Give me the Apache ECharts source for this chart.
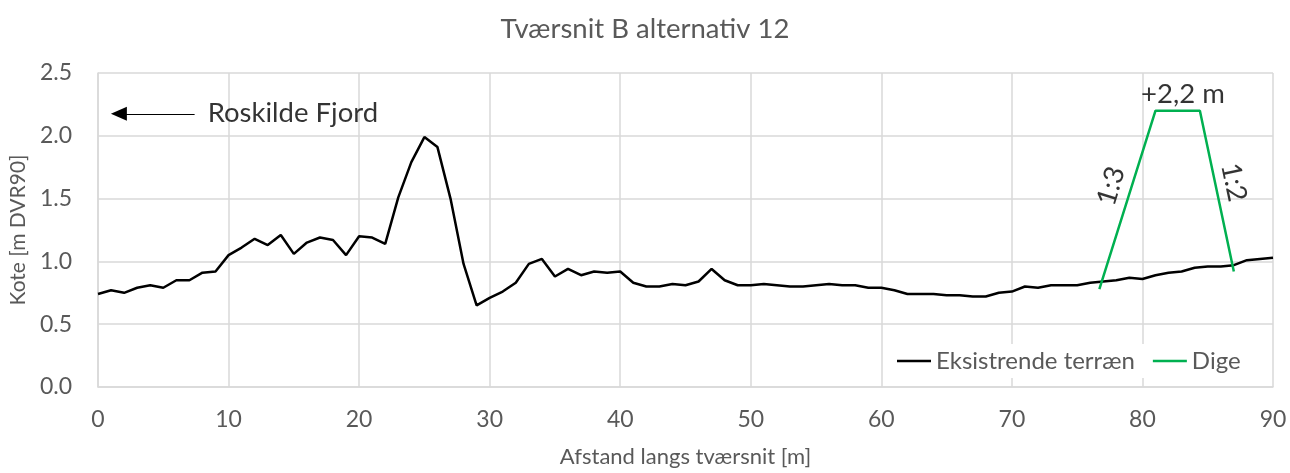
<!DOCTYPE html>
<html>
<head>
<meta charset="utf-8">
<script src="https://cdn.jsdelivr.net/npm/echarts@6/dist/echarts.min.js"></script>
<style>
html,body{margin:0;padding:0;background:#fff;}
#c{width:1290px;height:473px;}
</style>
</head>
<body>
<div id="c"></div>
<script>
// Terrain profile: distance (m) 0..90 step 1
const terrainX = [0,1,2,3,4,5,6,7,8,9,10,11,12,13,14,15,16,17,18,19,20,21,22,23,24,25,26,27,28,29,30,31,32,33,34,35,36,37,38,39,40,41,42,43,44,45,46,47,48,49,50,51,52,53,54,55,56,57,58,59,60,61,62,63,64,65,66,67,68,69,70,71,72,73,74,75,76,77,78,79,80,81,82,83,84,85,86,87,88,89,90];
const terrainY = [0.74,0.77,0.75,0.79,0.81,0.79,0.85,0.85,0.91,0.92,1.05,1.11,1.18,1.13,1.21,1.06,1.15,1.19,1.17,1.05,1.20,1.19,1.14,1.51,1.79,1.99,1.91,1.50,0.98,0.65,0.71,0.76,0.83,0.98,1.02,0.88,0.94,0.89,0.92,0.91,0.92,0.83,0.80,0.80,0.82,0.81,0.84,0.94,0.85,0.81,0.81,0.82,0.81,0.80,0.80,0.81,0.82,0.81,0.81,0.79,0.79,0.77,0.74,0.74,0.74,0.73,0.73,0.72,0.72,0.75,0.76,0.80,0.79,0.81,0.81,0.81,0.83,0.84,0.85,0.87,0.86,0.89,0.91,0.92,0.95,0.96,0.96,0.97,1.01,1.02,1.03];
// Dike outline
const digeX = [76.7, 81.0, 84.4, 87.0];
const digeY = [0.78, 2.20, 2.20, 0.92];
// Axis ticks
const xTicks = {min:0, max:90, interval:10};
const yTicks = {min:0, max:2.5, interval:0.5};
// Annotations
const notes = [
  {text:'Roskilde Fjord', x:8.4, y:2.18},
  {text:'+2,2 m', x:83.1, y:2.33},
  {text:'1:3', x:77.6, y:1.60},
  {text:'1:2', x:87.0, y:1.63}
];
const arrowFrom = [7.4, 2.175];
const arrowTo = [1.6, 2.175];

const FONT = 'Lato';
const GREY = '#595959';
const terrain = terrainX.map((x,i)=>[x, terrainY[i]]);
const dige = digeX.map((x,i)=>[x, digeY[i]]);

const chart = echarts.init(document.getElementById('c'), null, {renderer:'canvas'});
chart.setOption({
  animation:false,
  backgroundColor:'#fff',
  title:{
    text:'Tværsnit B alternativ 12',
    left:'center', top:10,
    textStyle:{fontFamily:FONT, fontSize:27.5, fontWeight:'normal', color:GREY}
  },
  grid:{left:97, right:17, top:73, bottom:83},
  legend:{
    data:['Eksistrende terræn','Dige'],
    left:892, top:344,
    icon:'rect',
    itemWidth:34, itemHeight:2.5, itemGap:18,
    textStyle:{fontFamily:FONT, fontSize:24, color:GREY, padding:[0,0,0,0]},
    backgroundColor:'#fff'
  },
  xAxis:{
    type:'value', min:xTicks.min, max:xTicks.max, interval:xTicks.interval,
    name:'Afstand langs tværsnit [m]', nameLocation:'middle', nameGap:59,
    nameTextStyle:{fontFamily:FONT, fontSize:22, color:GREY},
    axisLine:{show:true, lineStyle:{color:'#d9d9d9', width:1.5}},
    axisTick:{show:false},
    axisLabel:{fontFamily:FONT, fontSize:23, color:GREY, margin:21},
    splitLine:{show:true, lineStyle:{color:'#d9d9d9', width:1.5}}
  },
  yAxis:{
    type:'value', min:yTicks.min, max:yTicks.max, interval:yTicks.interval,
    name:'Kote [m DVR90]', nameLocation:'middle', nameGap:64,
    nameTextStyle:{fontFamily:FONT, fontSize:21, color:GREY},
    axisLine:{show:true, lineStyle:{color:'#d9d9d9', width:1.5}},
    axisTick:{show:false},
    axisLabel:{fontFamily:FONT, fontSize:23, color:GREY, margin:26, formatter:v=>v.toFixed(1)},
    splitLine:{show:true, lineStyle:{color:'#d9d9d9', width:1.5}}
  },
  series:[
    {
      name:'Eksistrende terræn', type:'line', data:terrain, symbol:'none',
      lineStyle:{color:'#000', width:2.5}, itemStyle:{color:'#000'},
      markLine:{
        silent:true, symbol:['none','triangle'], symbolSize:[14,16],
        label:{show:false},
        lineStyle:{color:'#000', width:1, type:'solid'},
        data:[[{coord:arrowFrom},{coord:arrowTo}]]
      }
    },
    {
      name:'Dige', type:'line', data:dige, symbol:'none',
      lineStyle:{color:'#00b050', width:2.5}, itemStyle:{color:'#00b050'}
    },
    {
      name:'notes', type:'scatter', symbolSize:0, silent:true,
      data:notes.map((n,i)=>({
        value:[n.x, n.y],
        label:{
          show:true, position:'inside', formatter:n.text,
          fontFamily:FONT, color:'#000',
          fontSize: i===0 ? 27.5 : 27.5,
          align: i===0 ? 'left' : 'center',
          verticalAlign:'middle',
          rotate: i===2 ? 73 : (i===3 ? -78 : 0)
        }
      }))
    }
  ]
});
</script>
</body>
</html>
